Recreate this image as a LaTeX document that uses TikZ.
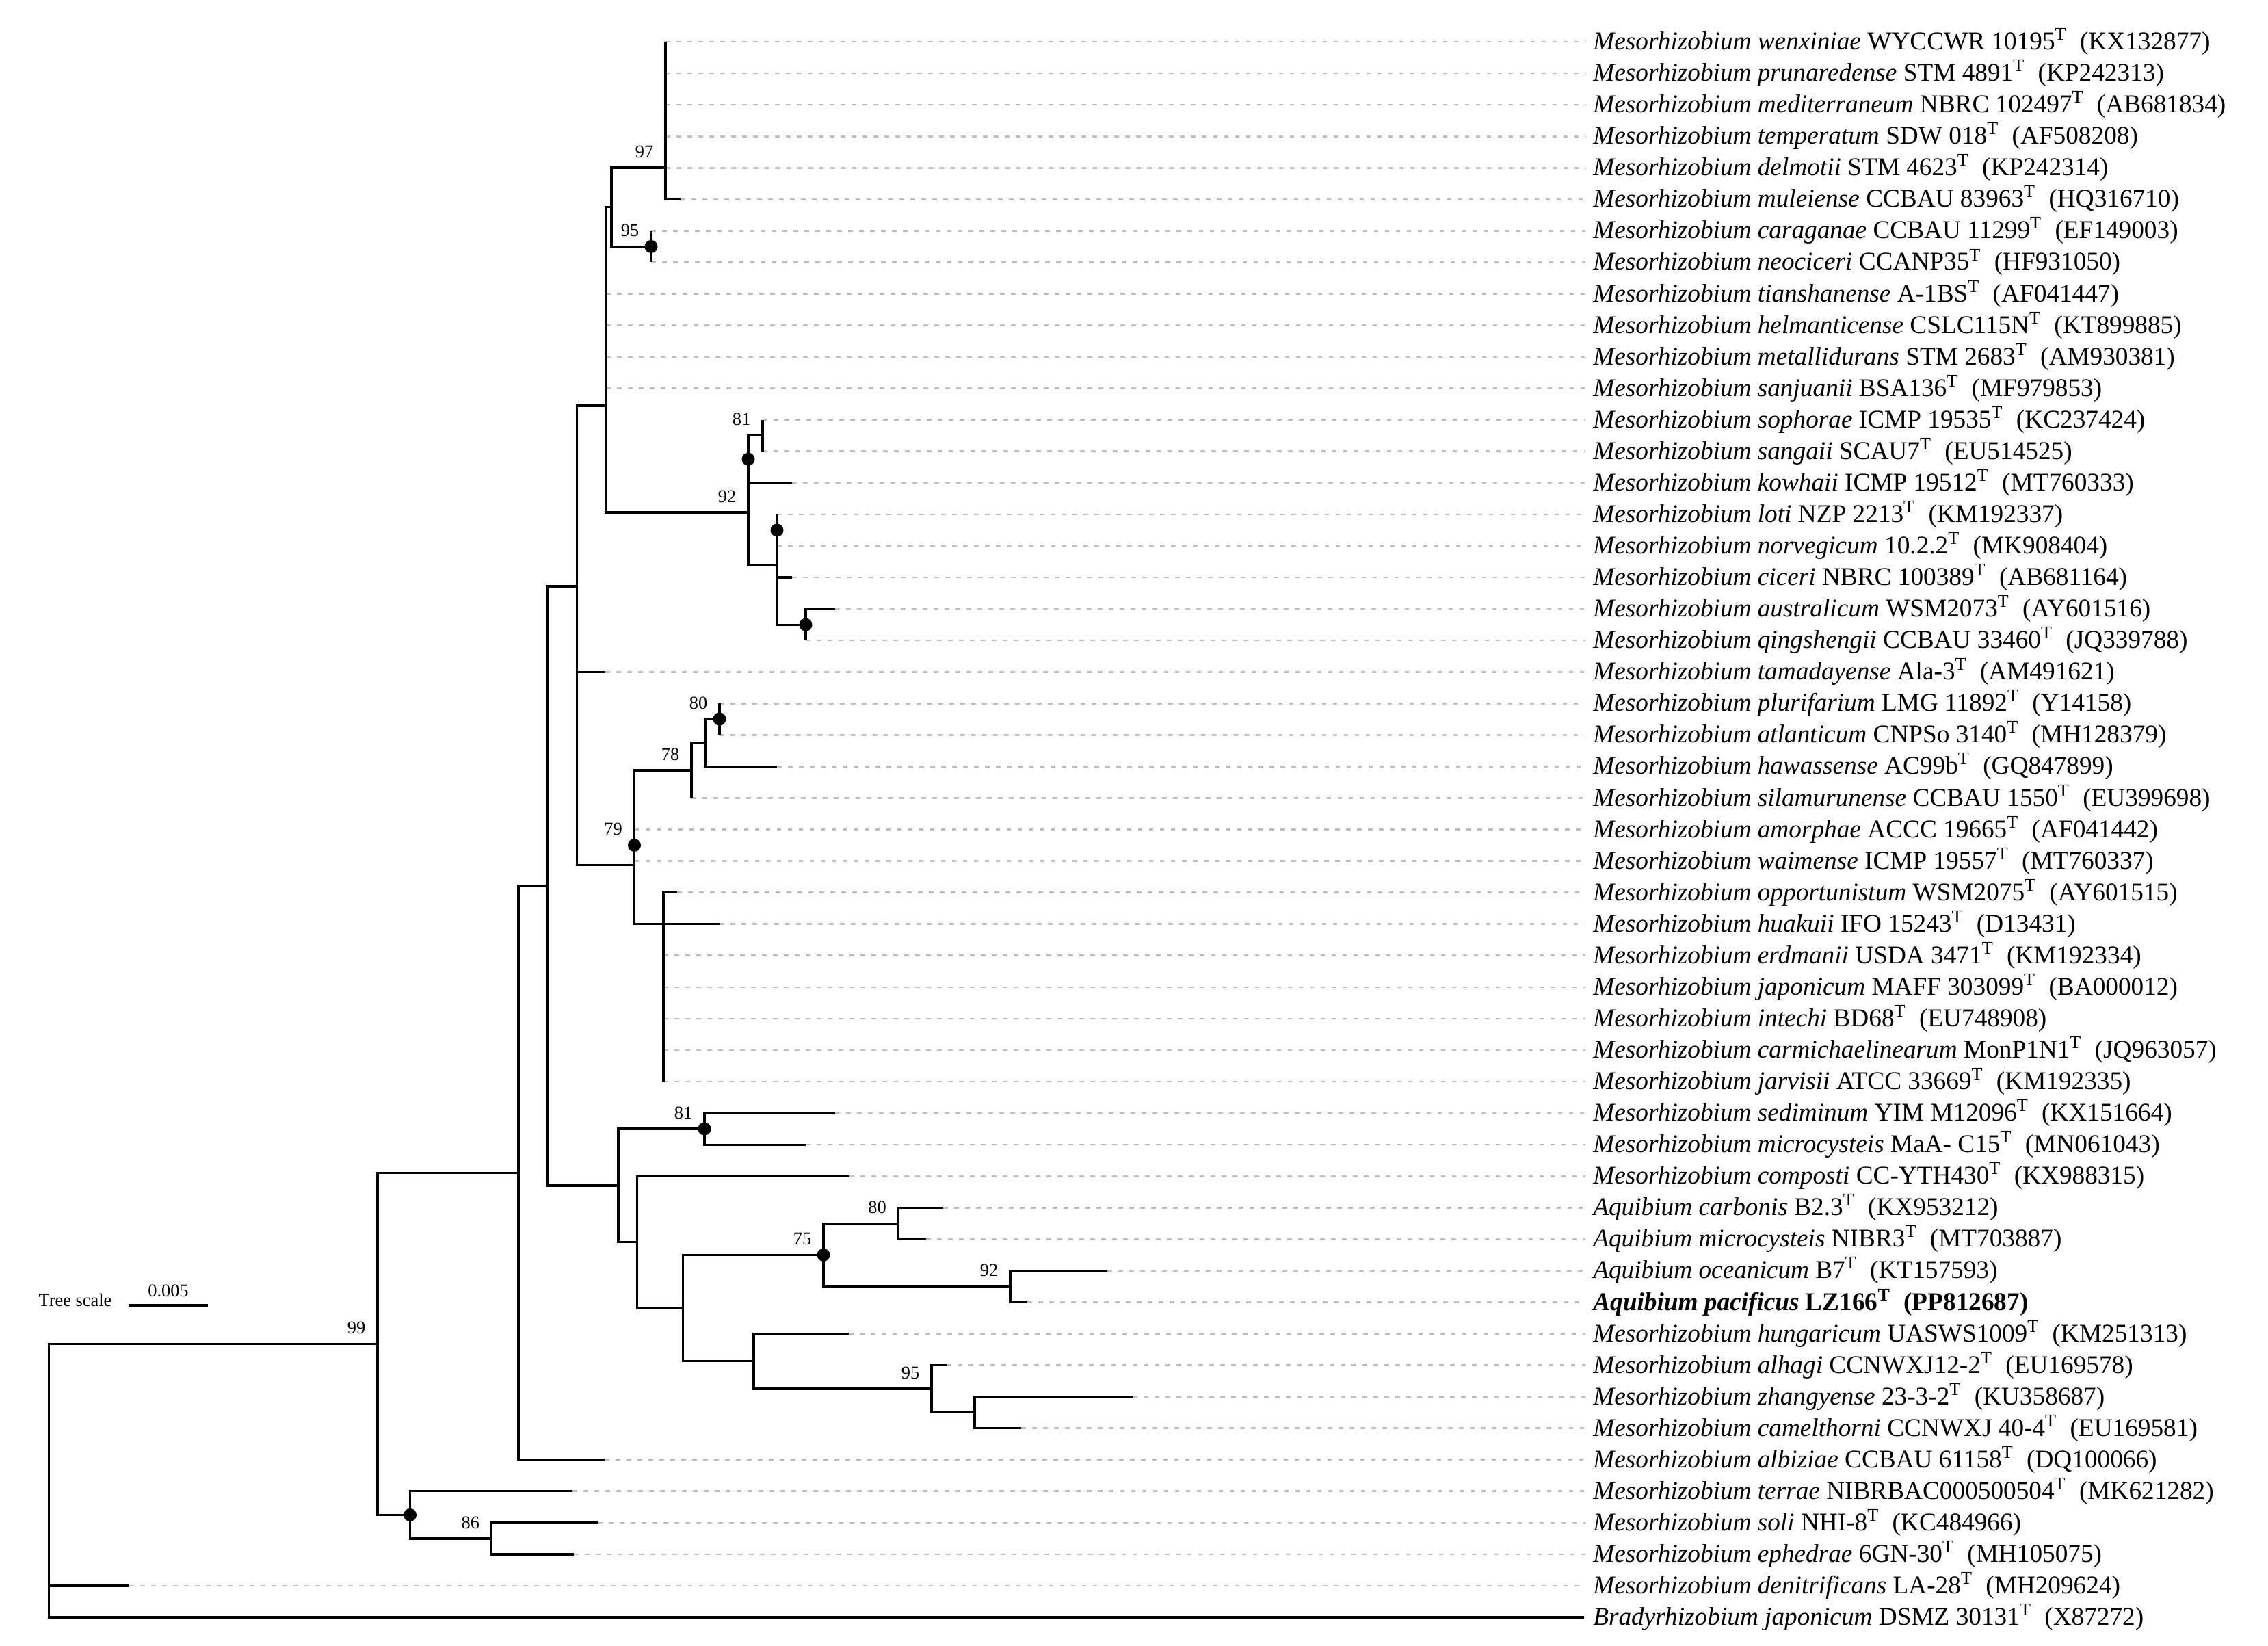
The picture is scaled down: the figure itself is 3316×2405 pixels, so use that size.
\documentclass[tikz,border=0pt]{standalone}
\usepackage{fontspec}
\setmainfont{Liberation Serif}
\usepackage{tikz}
\definecolor{leafgray}{RGB}{190,190,190}
\newcommand{\taxon}[3]{\textit{#1} #2\textsuperscript{T}\ \ (#3)}

\begin{document}
\begin{tikzpicture}[x=0.01cm, y=-0.01cm,
		branch/.style={line width=0.9pt},
		leafline/.style={leafgray, line width=0.75pt, dash pattern=on 0.065cm off 0.095cm},
		leaf/.style={anchor=west, inner xsep=3pt, inner ysep=0pt, font=\fontsize{10.6}{12}\selectfont},
		boot/.style={anchor=south east, inner sep=0pt, xshift=-0.17cm, yshift=0.14cm, font=\fontsize{7.5}{9}\selectfont}]
	\useasboundingbox (0,0) rectangle (3316,2405);

	% leaves: name / row / tip / label
	\foreach \nm/\r/\tx/\txt in {
		wen/1/973/{\taxon{Mesorhizobium wenxiniae}{WYCCWR 10195}{KX132877}},
		pru/2/973/{\taxon{Mesorhizobium prunaredense}{STM 4891}{KP242313}},
		med/3/973/{\taxon{Mesorhizobium mediterraneum}{NBRC 102497}{AB681834}},
		tem/4/973/{\taxon{Mesorhizobium temperatum}{SDW 018}{AF508208}},
		del/5/973/{\taxon{Mesorhizobium delmotii}{STM 4623}{KP242314}},
		mul/6/995/{\taxon{Mesorhizobium muleiense}{CCBAU 83963}{HQ316710}},
		car/7/952/{\taxon{Mesorhizobium caraganae}{CCBAU 11299}{EF149003}},
		neo/8/952/{\taxon{Mesorhizobium neociceri}{CCANP35}{HF931050}},
		tia/9/886/{\taxon{Mesorhizobium tianshanense}{A-1BS}{AF041447}},
		hel/10/886/{\taxon{Mesorhizobium helmanticense}{CSLC115N}{KT899885}},
		met/11/886/{\taxon{Mesorhizobium metallidurans}{STM 2683}{AM930381}},
		san/12/886/{\taxon{Mesorhizobium sanjuanii}{BSA136}{MF979853}},
		sop/13/1115/{\taxon{Mesorhizobium sophorae}{ICMP 19535}{KC237424}},
		sng/14/1115/{\taxon{Mesorhizobium sangaii}{SCAU7}{EU514525}},
		kow/15/1158/{\taxon{Mesorhizobium kowhaii}{ICMP 19512}{MT760333}},
		lot/16/1136/{\taxon{Mesorhizobium loti}{NZP 2213}{KM192337}},
		nor/17/1136/{\taxon{Mesorhizobium norvegicum}{10.2.2}{MK908404}},
		cic/18/1158/{\taxon{Mesorhizobium ciceri}{NBRC 100389}{AB681164}},
		aus/19/1221/{\taxon{Mesorhizobium australicum}{WSM2073}{AY601516}},
		qin/20/1178/{\taxon{Mesorhizobium qingshengii}{CCBAU 33460}{JQ339788}},
		tam/21/885/{\taxon{Mesorhizobium tamadayense}{Ala-3}{AM491621}},
		plu/22/1052/{\taxon{Mesorhizobium plurifarium}{LMG 11892}{Y14158}},
		atl/23/1052/{\taxon{Mesorhizobium atlanticum}{CNPSo 3140}{MH128379}},
		haw/24/1136/{\taxon{Mesorhizobium hawassense}{AC99b}{GQ847899}},
		sil/25/1011/{\taxon{Mesorhizobium silamurunense}{CCBAU 1550}{EU399698}},
		amo/26/927.5/{\taxon{Mesorhizobium amorphae}{ACCC 19665}{AF041442}},
		wai/27/927.5/{\taxon{Mesorhizobium waimense}{ICMP 19557}{MT760337}},
		opp/28/990/{\taxon{Mesorhizobium opportunistum}{WSM2075}{AY601515}},
		hua/29/1052/{\taxon{Mesorhizobium huakuii}{IFO 15243}{D13431}},
		erd/30/970/{\taxon{Mesorhizobium erdmanii}{USDA 3471}{KM192334}},
		jap/31/970/{\taxon{Mesorhizobium japonicum}{MAFF 303099}{BA000012}},
		int/32/970/{\taxon{Mesorhizobium intechi}{BD68}{EU748908}},
		cam/33/970/{\taxon{Mesorhizobium carmichaelinearum}{MonP1N1}{JQ963057}},
		jar/34/970/{\taxon{Mesorhizobium jarvisii}{ATCC 33669}{KM192335}},
		sed/35/1221/{\taxon{Mesorhizobium sediminum}{YIM M12096}{KX151664}},
		mic/36/1178/{\taxon{Mesorhizobium microcysteis}{MaA- C15}{MN061043}},
		com/37/1242/{\taxon{Mesorhizobium composti}{CC-YTH430}{KX988315}},
		aca/38/1379/{\taxon{Aquibium carbonis}{B2.3}{KX953212}},
		ami/39/1354/{\taxon{Aquibium microcysteis}{NIBR3}{MT703887}},
		aoc/40/1619/{\taxon{Aquibium oceanicum}{B7}{KT157593}},
		apa/41/1502/{\bfseries\taxon{Aquibium pacificus}{LZ166}{PP812687}},
		hun/42/1241/{\taxon{Mesorhizobium hungaricum}{UASWS1009}{KM251313}},
		alh/43/1384/{\taxon{Mesorhizobium alhagi}{CCNWXJ12-2}{EU169578}},
		zha/44/1656/{\taxon{Mesorhizobium zhangyense}{23-3-2}{KU358687}},
		cml/45/1493/{\taxon{Mesorhizobium camelthorni}{CCNWXJ 40-4}{EU169581}},
		alb/46/884/{\taxon{Mesorhizobium albiziae}{CCBAU 61158}{DQ100066}},
		ter/47/837/{\taxon{Mesorhizobium terrae}{NIBRBAC000500504}{MK621282}},
		sol/48/874/{\taxon{Mesorhizobium soli}{NHI-8}{KC484966}},
		eph/49/839/{\taxon{Mesorhizobium ephedrae}{6GN-30}{MH105075}},
		den/50/189/{\taxon{Mesorhizobium denitrificans}{LA-28}{MH209624}},
		bra/51/2316/{\taxon{Bradyrhizobium japonicum}{DSMZ 30131}{X87272}}}{
		\coordinate (\nm) at (\tx,14.94+46.06*\r);
		\node[leaf] (\nm-lab) at (2318,14.94+46.06*\r) {\txt};
		\draw[leafline] (\nm) -- (\nm-lab.west);
	}

	% inner nodes
	\coordinate (R) at (71.5,2164);
	\coordinate (N99) at (552,1964.5);
	\coordinate (Nbig) at (758,1714.4);
	\coordinate (N800) at (800,1295);
	\coordinate (N843) at (843.5,857);
	\coordinate (Ntop) at (885.5,593);
	\coordinate (P95) at (894,302.5);
	\coordinate (N97) at (973,245);
	\coordinate (N95) at (952,360.4);
	\coordinate (N92) at (1094,749);
	\coordinate (D1) at (1094,671.2);
	\coordinate (N81) at (1115,636.7);
	\coordinate (L) at (1136,826.8);
	\coordinate (D2) at (1136,775);
	\coordinate (D3) at (1178,913.2);
	\coordinate (N79) at (927.5,1264.5);
	\coordinate (N78) at (1011,1126);
	\coordinate (Nh) at (1031,1085.7);
	\coordinate (N80) at (1052,1051);
	\coordinate (Dot79) at (927.5,1235.5);
	\coordinate (N970) at (970,1350.7);
	\coordinate (N904) at (904,1733);
	\coordinate (N81b) at (1030,1650);
	\coordinate (N931) at (931.5,1815.5);
	\coordinate (N998) at (998.5,1912);
	\coordinate (N75) at (1204,1834.3);
	\coordinate (N80b) at (1313.5,1788.3);
	\coordinate (N92b) at (1477,1880.4);
	\coordinate (N625) at (1102,1989.8);
	\coordinate (N95b) at (1362,2030);
	\coordinate (N673) at (1425,2064.7);
	\coordinate (Dt) at (599.5,2214.4);
	\coordinate (N86) at (718.7,2249);

	\foreach \a/\b in {R/N99, R/den, R/bra, N99/Nbig, N99/Dt, Nbig/N800, Nbig/alb,
		N800/N843, N800/N904, N843/Ntop, N843/tam, N843/N79,
		Ntop/P95, Ntop/tia, Ntop/hel, Ntop/met, Ntop/san, Ntop/N92,
		P95/N97, P95/N95, N97/wen, N97/pru, N97/med, N97/tem, N97/del, N97/mul,
		N95/car, N95/neo, N92/D1, N92/L, D1/N81, D1/kow, N81/sop, N81/sng,
		L/D2, L/cic, L/D3, D2/lot, D2/nor, D3/aus, D3/qin,
		N79/N78, N79/Dot79, N79/N970, N78/Nh, N78/sil, Nh/N80, Nh/haw,
		N80/plu, N80/atl, Dot79/amo, Dot79/wai,
		N970/opp, N970/hua, N970/erd, N970/jap, N970/int, N970/cam, N970/jar,
		N904/N81b, N904/N931, N81b/sed, N81b/mic, N931/com, N931/N998,
		N998/N75, N998/N625, N75/N80b, N75/N92b, N80b/aca, N80b/ami,
		N92b/aoc, N92b/apa, N625/hun, N625/N95b, N95b/alh, N95b/N673,
		N673/zha, N673/cml, Dt/ter, Dt/N86, N86/sol, N86/eph}
		\draw[branch] (\a) |- (\b);

	\foreach \d in {N95, D1, D2, D3, N80, Dot79, N81b, N75, Dt}
		\fill (\d) circle[radius=0.095cm];

	% bootstrap values
	\node[boot] (b97) at (N97) {97};
	\node[boot] (b95) at (N95) {95};
	\node[boot] (b81) at (N81) {81};
	\node[boot] (b92) at (N92) {92};
	\node[boot] (b80) at (N80) {80};
	\node[boot] (b78) at (N78) {78};
	\node[boot] (b79) at (Dot79) {79};
	\node[boot] (b81b) at (N81b) {81};
	\node[boot] (b80b) at (N80b) {80};
	\node[boot] (b75) at (N75) {75};
	\node[boot] (b92b) at (N92b) {92};
	\node[boot] (b95b) at (N95b) {95};
	\node[boot] (b99) at (N99) {99};
	\node[boot] (b86) at (N86) {86};

	% scale bar
	\node[font=\fontsize{7.5}{9}\selectfont] (scaletext) at (110,1900) {Tree scale};
	\coordinate (sbl) at (188,1908.5);
	\coordinate (sbr) at (304,1908.5);
	\draw[line width=1.5pt] (sbl) -- (sbr) node[midway, above=0.1cm, inner sep=0pt, font=\fontsize{7.5}{9}\selectfont] (scalenum) {0.005};
\end{tikzpicture}
\end{document}
